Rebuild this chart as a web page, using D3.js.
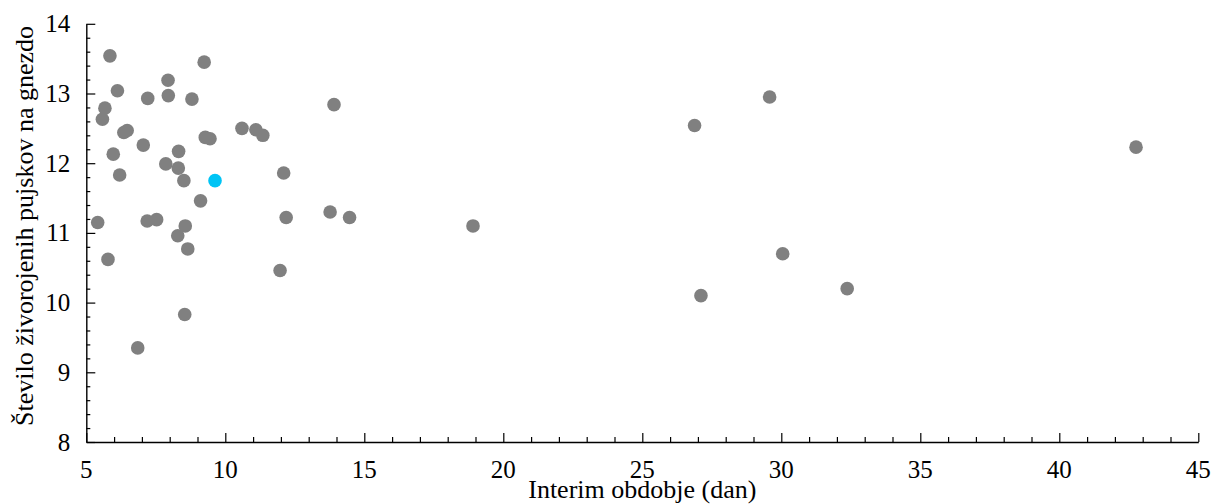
<!DOCTYPE html>
<html>
<head>
<meta charset="utf-8">
<script src="https://cdn.jsdelivr.net/npm/d3@7"></script>
<style>
  html, body { margin: 0; padding: 0; background: #fff; }
  svg { display: block; }
  text { font-family: "Liberation Serif", "Times New Roman", serif; fill: #000; }
</style>
</head>
<body>
<svg id="chart" width="1214" height="504"></svg>
<script>
// Data
const xValues = [5.85, 9.24, 7.94, 6.12, 7.21, 7.95, 8.80, 5.67, 5.58, 6.35, 6.47, 7.05, 8.32, 9.28, 9.45,
  10.60, 11.10, 11.35, 5.97, 7.86, 8.31, 6.20, 8.51, 9.11, 5.41, 7.19, 7.53, 8.56, 8.29, 8.65, 5.78,
  8.54, 6.85, 13.91, 12.10, 12.19, 13.77, 14.47, 18.91, 11.97, 29.58, 26.88, 30.05, 27.11, 32.37, 42.76];
const yValues = [13.54, 13.45, 13.19, 13.04, 12.93, 12.97, 12.92, 12.79, 12.63, 12.44, 12.47, 12.26, 12.17, 12.37, 12.35,
  12.50, 12.48, 12.40, 12.13, 11.99, 11.93, 11.83, 11.75, 11.46, 11.15, 11.17, 11.19, 11.10, 10.96, 10.77, 10.62,
  9.83, 9.35, 12.84, 11.86, 11.22, 11.30, 11.22, 11.10, 10.46, 12.95, 12.54, 10.70, 10.10, 10.20, 12.23];
const highlightX = [9.63];
const highlightY = [11.75];
const xTicks = [5, 10, 15, 20, 25, 30, 35, 40, 45];
const yTicks = [8, 9, 10, 11, 12, 13, 14];
const xLabel = "Interim obdobje (dan)";
const yLabel = "Število živorojenih pujskov na gnezdo";

const svg = d3.select("#chart");
const x = d3.scaleLinear().domain([5, 45]).range([86.3, 1198.3]);
const y = d3.scaleLinear().domain([8, 14]).range([442, 23.8]);

const tickFont = 25;

// X axis
const gx = svg.append("g").attr("transform", `translate(0,${y(8)})`);
gx.call(d3.axisBottom(x).tickValues(d3.range(5, 45.001, 1)).tickSizeInner(-5).tickSizeOuter(0).tickFormat(""));
gx.call(g => g.selectAll(".tick").filter(d => xTicks.includes(d)).select("line").attr("y2", -9));
gx.selectAll("path.domain").attr("stroke", "#000").attr("stroke-width", 1.4);
gx.selectAll(".tick line").attr("stroke", "#000").attr("stroke-width", 1.2);
gx.selectAll(".tick-label").data(xTicks).enter().append("text")
  .attr("x", d => x(d)).attr("y", 36)
  .attr("text-anchor", "middle")
  .style("font-family", '"Liberation Serif", "Times New Roman", serif')
  .style("font-size", tickFont + "px")
  .text(d => d);

// Y axis
const gy = svg.append("g").attr("transform", `translate(${x(5)},0)`);
gy.call(d3.axisLeft(y).tickValues(d3.range(8, 14.001, 0.2).map(v => Math.round(v * 10) / 10)).tickSizeInner(-4).tickSizeOuter(0).tickFormat(""));
gy.call(g => g.selectAll(".tick").filter(d => yTicks.includes(d)).select("line").attr("x2", 9));
gy.selectAll("path.domain").attr("stroke", "#000").attr("stroke-width", 1.4);
gy.selectAll(".tick line").attr("stroke", "#000").attr("stroke-width", 1.2);
gy.selectAll(".tick-label").data(yTicks).enter().append("text")
  .attr("x", -16).attr("y", d => y(d)).attr("dy", "0.34em")
  .attr("text-anchor", "end")
  .style("font-family", '"Liberation Serif", "Times New Roman", serif')
  .style("font-size", tickFont + "px")
  .text(d => d);

// Axis titles
svg.append("text")
  .attr("x", (x(5) + x(45)) / 2).attr("y", 498)
  .attr("text-anchor", "middle")
  .style("font-size", "26px")
  .text(xLabel);
svg.append("text")
  .attr("transform", `translate(33,226) rotate(-90)`)
  .attr("text-anchor", "middle")
  .style("font-size", "26px")
  .text(yLabel);

// Points
const pts = xValues.map((v, i) => ({ x: v, y: yValues[i] }));
svg.append("g").selectAll("circle").data(pts).enter().append("circle")
  .attr("cx", d => x(d.x)).attr("cy", d => y(d.y)).attr("r", 6.8)
  .attr("fill", "#808080");
const hpts = highlightX.map((v, i) => ({ x: v, y: highlightY[i] }));
svg.append("g").selectAll("circle").data(hpts).enter().append("circle")
  .attr("cx", d => x(d.x)).attr("cy", d => y(d.y)).attr("r", 6.8)
  .attr("fill", "#00c4f5");
</script>
</body>
</html>
